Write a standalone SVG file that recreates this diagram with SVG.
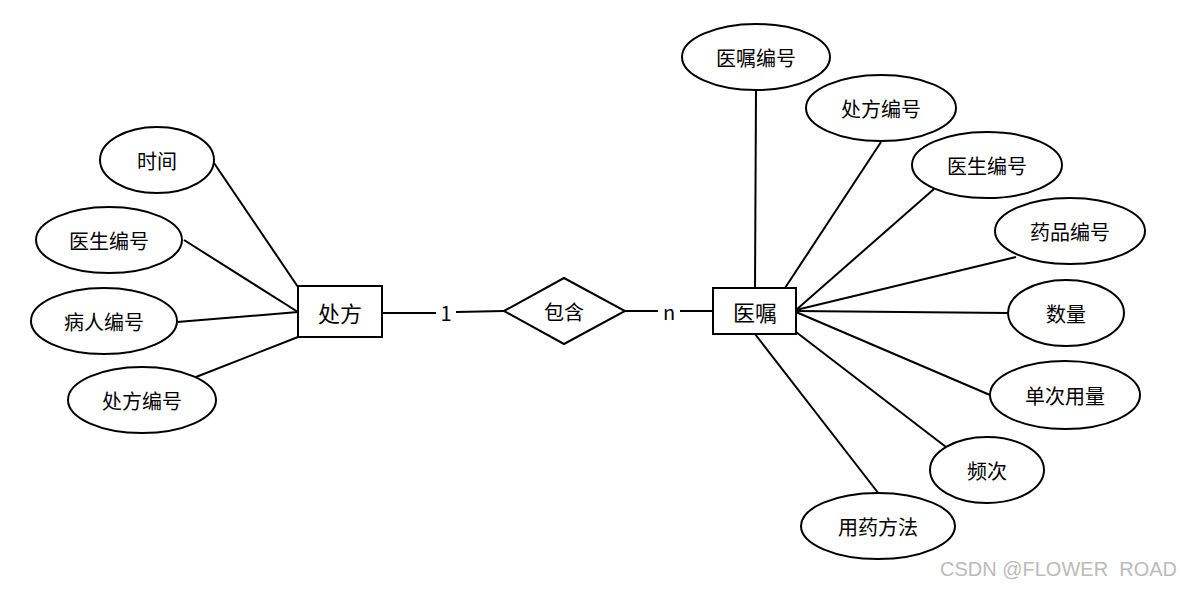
<svg xmlns="http://www.w3.org/2000/svg" width="1180" height="589" viewBox="0 0 1180 589">
<style>
.sh{fill:#fff;stroke:#000;stroke-width:2}
.ln{stroke:#000;stroke-width:2;fill:none}
text{font-family:"Noto Sans CJK SC","Liberation Sans",sans-serif;font-size:20px;text-anchor:middle;dominant-baseline:central;fill:#000}
.big{font-size:22px}
.wm{font-family:"Liberation Sans",sans-serif;font-size:20px;fill:#bbb;text-anchor:start}
</style>
<rect width="1180" height="589" fill="#fff"/>
<g id="connectors">
<line class="ln" x1="214" y1="163" x2="298" y2="287"/>
<line class="ln" x1="184" y1="240" x2="298" y2="312"/>
<line class="ln" x1="177" y1="322" x2="298" y2="312"/>
<line class="ln" x1="196" y1="377" x2="298" y2="337"/>
<line class="ln" x1="382" y1="313" x2="436" y2="313"/>
<line class="ln" x1="456" y1="312" x2="504" y2="311"/>
<line class="ln" x1="625" y1="311" x2="658" y2="311"/>
<line class="ln" x1="680" y1="311" x2="713" y2="311"/>
<line class="ln" x1="756" y1="90" x2="755" y2="288"/>
<line class="ln" x1="881" y1="142" x2="785" y2="288"/>
<line class="ln" x1="934" y1="189" x2="796" y2="310"/>
<line class="ln" x1="1016" y1="257" x2="796" y2="310"/>
<line class="ln" x1="1008" y1="313" x2="796" y2="311"/>
<line class="ln" x1="990" y1="395" x2="796" y2="312"/>
<line class="ln" x1="946" y1="447" x2="796" y2="332"/>
<line class="ln" x1="879" y1="494" x2="755" y2="334"/>
<text x="446" y="312">1</text>
<text x="669" y="311">n</text>
</g>
<g id="chufang"><rect class="sh" x="298" y="286" width="84" height="51"/><text class="big" x="340" y="312">处方</text></g>
<g id="yizhu"><rect class="sh" x="713" y="288" width="83" height="46"/><text class="big" x="755" y="311">医嘱</text></g>
<g id="baohan"><polygon class="sh" points="504,311 564,278 625,311 564,344"/><text x="564" y="311">包含</text></g>
<g id="a-shijian"><ellipse class="sh" cx="157" cy="160" rx="57" ry="33"/><text x="157" y="160">时间</text></g>
<g id="a-yishengbianhao1"><ellipse class="sh" cx="109" cy="240" rx="73" ry="33"/><text x="109" y="240">医生编号</text></g>
<g id="a-bingrenbianhao"><ellipse class="sh" cx="104" cy="321" rx="73" ry="33"/><text x="104" y="321">病人编号</text></g>
<g id="a-chufangbianhao1"><ellipse class="sh" cx="142" cy="400" rx="74" ry="33"/><text x="142" y="400">处方编号</text></g>
<g id="a-yizhubianhao"><ellipse class="sh" cx="756" cy="57" rx="74" ry="33"/><text x="756" y="57">医嘱编号</text></g>
<g id="a-chufangbianhao2"><ellipse class="sh" cx="881" cy="108" rx="75" ry="33"/><text x="881" y="108">处方编号</text></g>
<g id="a-yishengbianhao2"><ellipse class="sh" cx="987" cy="165" rx="75" ry="33"/><text x="987" y="165">医生编号</text></g>
<g id="a-yaopinbianhao"><ellipse class="sh" cx="1070" cy="231" rx="75" ry="33"/><text x="1070" y="231">药品编号</text></g>
<g id="a-shuliang"><ellipse class="sh" cx="1066" cy="313" rx="58" ry="33"/><text x="1066" y="313">数量</text></g>
<g id="a-dancayongliang"><ellipse class="sh" cx="1065" cy="395" rx="75" ry="34"/><text x="1065" y="395">单次用量</text></g>
<g id="a-pinci"><ellipse class="sh" cx="987" cy="470" rx="57" ry="33"/><text x="987" y="470">频次</text></g>
<g id="a-yongyaofangfa"><ellipse class="sh" cx="878" cy="526" rx="77" ry="33"/><text x="878" y="526">用药方法</text></g>
<text class="wm" x="940" y="569">CSDN @FLOWER&#160; ROAD</text>
</svg>
